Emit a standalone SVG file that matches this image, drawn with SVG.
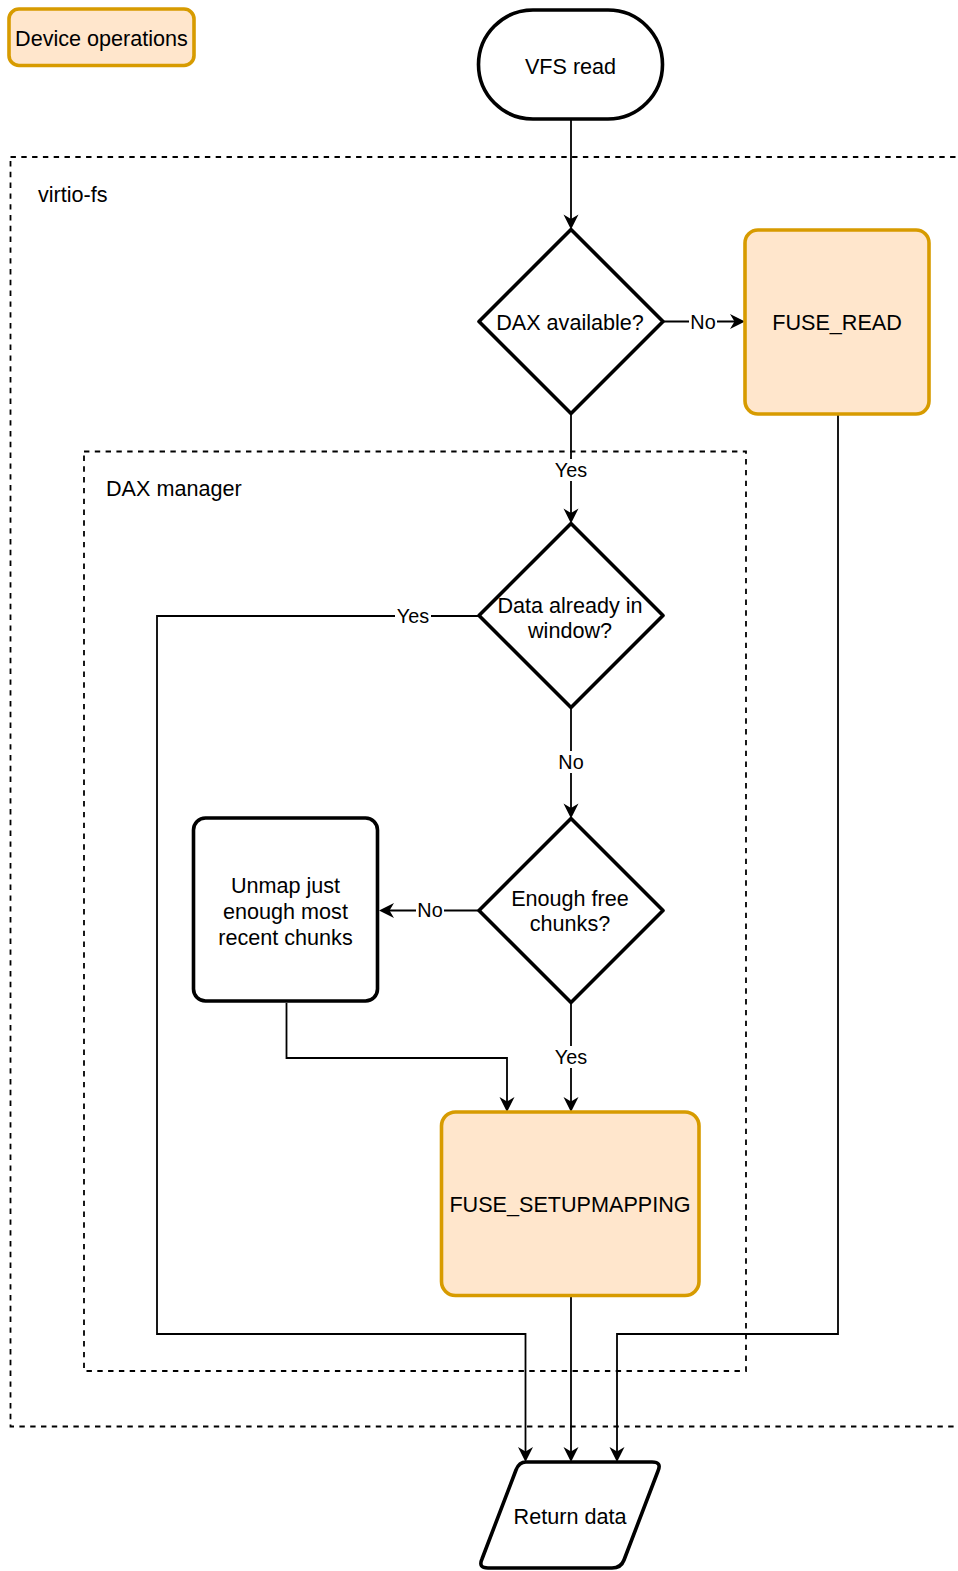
<svg xmlns="http://www.w3.org/2000/svg" width="958" height="1571" viewBox="0 0 958 1571">
<style>
text{font-family:"Liberation Sans",Arial,Helvetica,sans-serif;fill:#000}
.n{font-size:21.6px;text-anchor:middle;dominant-baseline:central}
.lbl{font-size:21.6px}
.e{font-size:19.8px;text-anchor:middle;dominant-baseline:central}
.shape{fill:#fff;stroke:#000;stroke-width:3.6;stroke-linejoin:round}
.dev{fill:#ffe6cc;stroke:#d79b00;stroke-width:3.6}
.cont{fill:none;stroke:#000;stroke-width:1.8;stroke-dasharray:5.4 5.4}
.c{fill:none;stroke:#000;stroke-width:1.8}
.lb{fill:#fff}
</style>
<defs>
<marker id="arr" viewBox="-12 -8 16 16" refX="0" refY="0" markerWidth="16" markerHeight="16" orient="auto" markerUnits="userSpaceOnUse">
<path d="M4,0 L-11,-7.5 L-6.5,0 L-11,7.5 Z" fill="#000"/>
</marker>
</defs>

<g id="containers">
<g id="virtio-fs">
<rect class="cont" x="10.5" y="157" width="960" height="1269.5"/>
<text class="lbl" x="38" y="202">virtio-fs</text>
</g>
<g id="dax-manager">
<rect class="cont" x="84" y="451.5" width="662" height="919.5"/>
<text class="lbl" x="106" y="496">DAX manager</text>
</g>
</g>

<g id="connectors">
<path class="c" d="M571 119 V225.5" marker-end="url(#arr)"/>
<path class="c" d="M663 321.5 H741" marker-end="url(#arr)"/>
<path class="c" d="M571 413.5 V519.5" marker-end="url(#arr)"/>
<path class="c" d="M478.5 616 H157 V1334 H525.5 V1458" marker-end="url(#arr)"/>
<path class="c" d="M571 707.5 V814.5" marker-end="url(#arr)"/>
<path class="c" d="M478 910.5 H383" marker-end="url(#arr)"/>
<path class="c" d="M571 1002.5 V1108" marker-end="url(#arr)"/>
<path class="c" d="M286.5 1003 V1058 H507 V1108" marker-end="url(#arr)"/>
<path class="c" d="M571 1296 V1458" marker-end="url(#arr)"/>
<path class="c" d="M838 414 V1334 H617 V1458" marker-end="url(#arr)"/>
<g id="edge-labels">
<rect class="lb" x="689" y="311" width="28" height="22"/>
<text class="e" x="703" y="322">No</text>
<rect class="lb" x="553" y="459" width="36" height="22"/>
<text class="e" x="571" y="470">Yes</text>
<rect class="lb" x="395" y="605" width="36" height="22"/>
<text class="e" x="413" y="616">Yes</text>
<rect class="lb" x="557" y="751" width="28" height="22"/>
<text class="e" x="571" y="762">No</text>
<rect class="lb" x="416" y="899" width="28" height="22"/>
<text class="e" x="430" y="910">No</text>
<rect class="lb" x="553" y="1046" width="36" height="22"/>
<text class="e" x="571" y="1057">Yes</text>
</g>
</g>

<g id="legend">
<rect class="dev" x="9" y="9" width="185" height="56.5" rx="10"/>
<text class="n" x="101.5" y="38">Device operations</text>
</g>

<g id="vfs-read">
<rect class="shape" x="478.5" y="10" width="184" height="109" rx="54.5"/>
<text class="n" x="570.5" y="66">VFS read</text>
</g>

<g id="dax-available">
<path class="shape" d="M571 229.5 L663 321.5 L571 413.5 L479 321.5 Z"/>
<text class="n" x="570" y="322">DAX available?</text>
</g>

<g id="fuse-read">
<rect class="dev" x="745" y="230" width="184" height="184" rx="13"/>
<text class="n" x="837" y="322">FUSE_READ</text>
</g>

<g id="data-in-window">
<path class="shape" d="M571 523.5 L663 615.5 L571 707.5 L479 615.5 Z"/>
<text class="n" x="570" y="605">Data already in</text>
<text class="n" x="570" y="630">window?</text>
</g>

<g id="enough-free">
<path class="shape" d="M571 818.5 L663 910.5 L571 1002.5 L479 910.5 Z"/>
<text class="n" x="570" y="898">Enough free</text>
<text class="n" x="570" y="923">chunks?</text>
</g>

<g id="unmap">
<rect class="shape" x="193.5" y="818" width="184" height="183" rx="12"/>
<text class="n" x="285.5" y="885">Unmap just</text>
<text class="n" x="285.5" y="911">enough most</text>
<text class="n" x="285.5" y="937">recent chunks</text>
</g>

<g id="fuse-setupmapping">
<rect class="dev" x="441.5" y="1112" width="257.5" height="183.5" rx="14"/>
<text class="n" x="570" y="1204">FUSE_SETUPMAPPING</text>
</g>

<g id="return-data">
<path class="shape" d="M526 1462 H652 Q662 1462 658 1471 L624 1560 Q621 1568 612 1568 H488 Q478 1568 482 1559 L516 1470 Q519 1462 526 1462 Z"/>
<text class="n" x="570" y="1516">Return data</text>
</g>
</svg>
